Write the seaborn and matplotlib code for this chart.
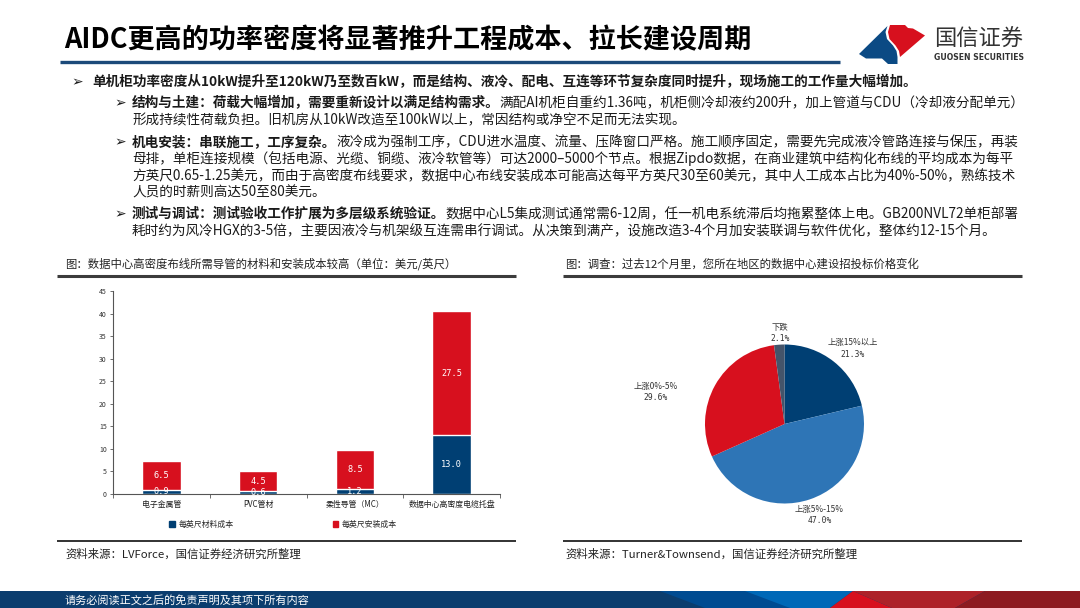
import numpy as np
import pandas as pd
import matplotlib
matplotlib.use("Agg")
import matplotlib.pyplot as plt
from matplotlib.patches import Polygon, Patch
import seaborn as sns

sns.set_theme(style="white")
plt.rcParams['font.family'] = ['Noto Sans CJK SC', 'DejaVu Sans']
plt.rcParams['axes.unicode_minus'] = False

# ---- data ----
conduit_types = ['电子金属管', 'PVC管材', '柔性导管（MC）', '数据中心高密度电缆托盘']
material_cost = [0.9, 0.6, 1.2, 13.0]
install_cost = [6.5, 4.5, 8.5, 27.5]
cost_series = ['每英尺材料成本', '每英尺安装成本']
bar_yticks = [0, 5, 10, 15, 20, 25, 30, 35, 40, 45]

price_change = ['上涨15%以上', '上涨5%-15%', '上涨0%-5%', '下跌']
price_share = [21.3, 47.0, 29.6, 2.1]

BLUE = '#003f73'
RED = '#d7101e'
MIDBLUE = '#2e75b6'
GRAY = '#44546a'
TXT = '#1a1a1a'

fig = plt.figure(figsize=(10.8, 6.08), dpi=100)
bg = fig.add_axes([0, 0, 1, 1])
bg.set_xlim(0, 1080)
bg.set_ylim(608, 0)
bg.axis('off')

# ---- header ----
bg.text(64, 40, 'AIDC更高的功率密度将显著推升工程成本、拉长建设周期',
        fontsize=19.5, fontweight='bold', va='center', color='black')
bg.plot([60, 840], [62, 62], color='#1c4a7a', lw=2.4, solid_capstyle='butt')

# logo
bg.add_patch(Polygon([(859, 54), (887.5, 26), (885.5, 32), (887, 39), (893, 45.5), (896.5, 51),
                      (897.5, 57), (897.5, 64), (888, 64), (882, 58.5), (866, 58.5)],
                     closed=True, color='#0b4a84', lw=0))
bg.add_patch(Polygon([(890, 25), (905, 25), (908, 28), (913, 28.5), (925, 35.5), (900, 57),
                      (899, 51), (895.5, 45.5), (889.5, 39), (888, 32)],
                     closed=True, color=RED, lw=0))
bg.text(934, 39, '国信证券', fontsize=16, color='#333333', va='center')
bg.text(934, 57.5, 'GUOSEN SECURITIES', fontsize=5.6, fontweight='bold', color='#333333',
        va='center', family='DejaVu Sans')

# ---- body text ----
SIZE = 9.8


def arrow(x, y):
    bg.text(x, y, '➢', fontsize=10, va='center', ha='left', family='DejaVu Sans', color=TXT)


def rich_line(x, y, bold='', regular=''):
    if bold:
        t = bg.text(x, y, bold, fontsize=SIZE, fontweight='bold', va='center', ha='left', color=TXT)
        if regular:
            bg.annotate(regular, xy=(1, 0.5), xycoords=t, fontsize=SIZE, va='center',
                        ha='left', color=TXT)
    else:
        bg.text(x, y, regular, fontsize=SIZE, va='center', ha='left', color=TXT)


arrow(71, 82)
rich_line(92, 82, '单机柜功率密度从10kW提升至120kW乃至数百kW，而是结构、液冷、配电、互连等环节复杂度同时提升，现场施工的工作量大幅增加。')

arrow(114, 103)
rich_line(132, 103, '结构与土建：荷载大幅增加，需要重新设计以满足结构需求。',
          '满配AI机柜自重约1.36吨，机柜侧冷却液约200升，加上管道与CDU（冷却液分配单元）')
rich_line(132, 120, regular='形成持续性荷载负担。旧机房从10kW改造至100kW以上，常因结构或净空不足而无法实现。')

arrow(114, 142)
rich_line(132, 142, '机电安装：串联施工，工序复杂。',
          '液冷成为强制工序，CDU进水温度、流量、压降窗口严格。施工顺序固定，需要先完成液冷管路连接与保压，再装')
rich_line(132, 159, regular='母排，单柜连接规模（包括电源、光缆、铜缆、液冷软管等）可达2000–5000个节点。根据Zipdo数据，在商业建筑中结构化布线的平均成本为每平')
rich_line(132, 176, regular='方英尺0.65-1.25美元，而由于高密度布线要求，数据中心布线安装成本可能高达每平方英尺30至60美元，其中人工成本占比为40%-50%，熟练技术')
rich_line(132, 193, regular='人员的时薪则高达50至80美元。')

arrow(114, 214)
rich_line(132, 214, '测试与调试：测试验收工作扩展为多层级系统验证。',
          '数据中心L5集成测试通常需6-12周，任一机电系统滞后均拖累整体上电。GB200NVL72单柜部署')
rich_line(132, 231, regular='耗时约为风冷HGX的3-5倍，主要因液冷与机架级互连需串行调试。从决策到满产，设施改造3-4个月加安装联调与软件优化，整体约12-15个月。')

# ---- chart frames ----
bg.text(65, 264, '图：数据中心高密度布线所需导管的材料和安装成本较高（单位：美元/英尺）',
        fontsize=8.2, va='center', color='#222222')
bg.text(565, 264, '图：调查：过去12个月里，您所在地区的数据中心建设招投标价格变化',
        fontsize=8.2, va='center', color='#222222')
for x0, x1 in [(57, 516), (563, 1022)]:
    bg.plot([x0, x1], [276, 276], color='#3c3c3c', lw=2.2, solid_capstyle='butt')
    bg.plot([x0, x1], [541, 541], color='#222222', lw=1.3, solid_capstyle='butt')
bg.text(65, 554, '资料来源：LVForce，国信证券经济研究所整理', fontsize=8.2, va='center', color='#222222')
bg.text(565, 554, '资料来源：Turner&Townsend，国信证券经济研究所整理', fontsize=8.2, va='center',
        color='#222222')

# ---- footer ----
bg.add_patch(Polygon([(0, 591), (1080, 591), (1080, 608), (0, 608)], closed=True, color='#0b3d6e', lw=0))
bg.add_patch(Polygon([(660, 591), (760, 591), (790, 608), (705, 608)], closed=True, color='#004b91', lw=0))
bg.add_patch(Polygon([(745, 591), (853, 591), (830, 608), (790, 608)], closed=True, color='#0068b7', lw=0))
bg.add_patch(Polygon([(853, 591), (892, 608), (830, 608)], closed=True, color=RED, lw=0))
bg.add_patch(Polygon([(853, 591), (985, 591), (955, 608), (892, 608)], closed=True, color='#ad2229', lw=0))
bg.add_patch(Polygon([(985, 591), (1080, 591), (1080, 608), (955, 608)], closed=True, color='#8d1b21', lw=0))
bg.text(65, 600, '请务必阅读正文之后的免责声明及其项下所有内容', fontsize=8, color='white', va='center')

# ---- stacked bar chart ----
ax = fig.add_axes([113 / 1080, (608 - 494) / 608, 387 / 1080, 203 / 608])
ax.patch.set_alpha(0)
df = pd.DataFrame({'类型': conduit_types, '材料': material_cost, '安装': install_cost})
df['合计'] = df['材料'] + df['安装']
sns.barplot(data=df, x='类型', y='合计', color=RED, width=0.4, saturation=1, ax=ax)
sns.barplot(data=df, x='类型', y='材料', color=BLUE, width=0.4, saturation=1, ax=ax)

ax.bar_label(ax.containers[1], fmt='%.1f', label_type='center', color='white', fontsize=6.2,
             family='DejaVu Sans Mono')
for i, (m, v) in enumerate(zip(material_cost, install_cost)):
    ax.text(i, m + v / 2, f'{v:.1f}', ha='center', va='center', color='white', fontsize=6.2,
            family='DejaVu Sans Mono')

ax.set_xlim(-0.5, 3.5)
ax.set_ylim(0, 45)
ax.set_yticks(bar_yticks)
ax.set_xlabel('')
ax.set_ylabel('')
ax.set_xticks(np.arange(-0.5, 4, 1), minor=True)
ax.tick_params(axis='y', left=True, labelsize=5, length=2.5, width=0.6, color='#555555',
               labelcolor='#333333', pad=2)
ax.tick_params(axis='x', which='major', bottom=False, labelsize=5.7, labelcolor='#222222', pad=-2)
ax.tick_params(axis='x', which='minor', bottom=True, length=3, width=0.6, color='#555555')
for s in ['top', 'right']:
    ax.spines[s].set_visible(False)
for s in ['left', 'bottom']:
    ax.spines[s].set_color('#555555')
    ax.spines[s].set_linewidth(0.8)

fig.legend([Patch(color=BLUE), Patch(color=RED)], cost_series, loc='center left',
           bbox_to_anchor=(169 / 1080, 1 - 524 / 608), ncol=2, frameon=False, fontsize=5.7,
           handlelength=0.7, handleheight=0.7, handletextpad=0.5, columnspacing=12.5,
           borderpad=0, borderaxespad=0)

# ---- pie chart ----
axp = fig.add_axes([705 / 1080, (608 - 503.5) / 608, 159 / 1080, 159 / 608])
axp.pie(price_share, colors=[BLUE, MIDBLUE, RED, GRAY], startangle=90, counterclock=False,
        wedgeprops=dict(linewidth=0))
axp.set_xlim(-1, 1)
axp.set_ylim(-1, 1)
label_xy = [(0.86, 0.95), (0.44, -1.15), (-1.62, 0.40), (-0.06, 1.14)]
for name, share, xy in zip(price_change, price_share, label_xy):
    axp.annotate(name, xy, xytext=(0, 4), textcoords='offset points', ha='center', va='center',
                 fontsize=6, color='#333333', annotation_clip=False)
    axp.annotate(f'{share:.1f}%', xy, xytext=(0, -4), textcoords='offset points', ha='center',
                 va='center', fontsize=5.8, color='#333333', family='DejaVu Sans Mono',
                 annotation_clip=False)

fig.savefig('out.png', dpi=100)
